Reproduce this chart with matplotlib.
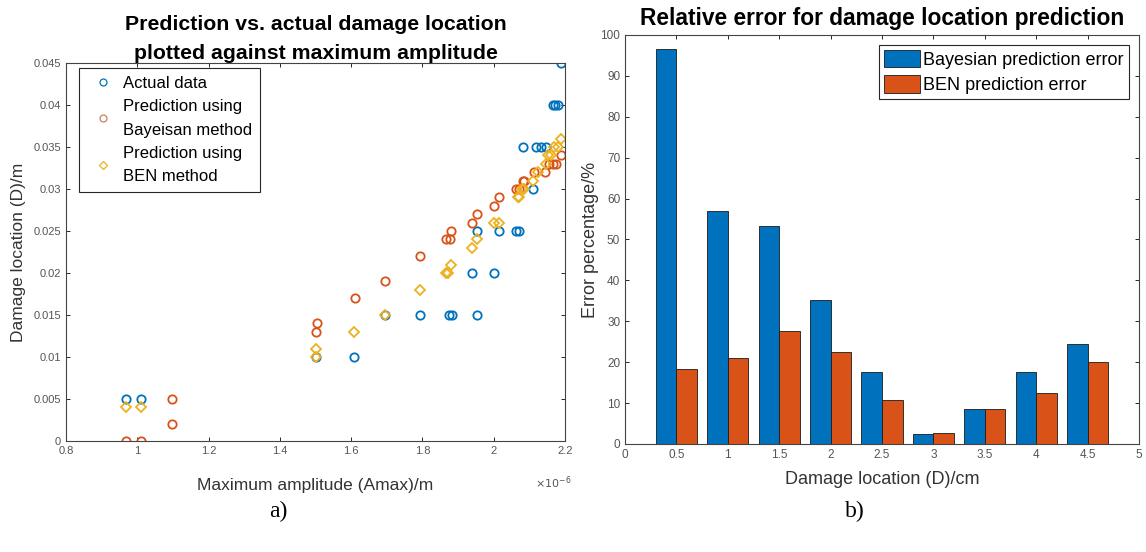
import numpy as np
import matplotlib
matplotlib.use("Agg")
import matplotlib.pyplot as plt
from matplotlib.ticker import FuncFormatter
from matplotlib.patches import Patch
from matplotlib.lines import Line2D

plt.rcParams['font.family'] = ['Liberation Sans', 'DejaVu Sans']

# --- panel a) data: amplitude in units of 1e-6 m, location in m
actual_amp = [0.969, 1.011, 1.502, 1.609, 1.695, 1.792, 1.874, 1.884, 1.953, 1.938, 2.002,
              1.952, 2.014, 2.063, 2.072, 2.109, 2.083, 2.119, 2.133, 2.147, 2.165, 2.172,
              2.180, 2.190]
actual_loc = [0.005, 0.005, 0.010, 0.010, 0.015, 0.015, 0.015, 0.015, 0.015, 0.020, 0.020,
              0.025, 0.025, 0.025, 0.025, 0.030, 0.035, 0.035, 0.035, 0.035, 0.040, 0.040,
              0.040, 0.045]

bayes_amp = [0.969, 1.011, 1.096, 1.096, 1.502, 1.503, 1.610, 1.695, 1.792, 1.865, 1.876,
             1.880, 1.938, 1.952, 2.002, 2.014, 2.063, 2.070, 2.081, 2.086, 2.113, 2.145,
             2.156, 2.165, 2.175, 2.189]
bayes_loc = [0.0, 0.0, 0.002, 0.005, 0.013, 0.014, 0.017, 0.019, 0.022, 0.024, 0.024,
             0.025, 0.026, 0.027, 0.028, 0.029, 0.030, 0.030, 0.031, 0.031, 0.032, 0.032,
             0.033, 0.033, 0.033, 0.034]

ben_amp = [0.969, 1.011, 1.502, 1.502, 1.609, 1.695, 1.792, 1.865, 1.872, 1.880, 1.938,
           1.953, 2.002, 2.014, 2.067, 2.072, 2.079, 2.085, 2.109, 2.123, 2.147, 2.151,
           2.160, 2.170, 2.181, 2.189]
ben_loc = [0.004, 0.004, 0.010, 0.011, 0.013, 0.015, 0.018, 0.020, 0.020, 0.021, 0.023,
           0.024, 0.026, 0.026, 0.029, 0.029, 0.030, 0.030, 0.031, 0.032, 0.033, 0.034,
           0.034, 0.035, 0.035, 0.036]

# --- panel b) data
damage_cm = [0.5, 1.0, 1.5, 2.0, 2.5, 3.0, 3.5, 4.0, 4.5]
bayes_err = [96.6, 56.9, 53.4, 35.1, 17.5, 2.5, 8.5, 17.5, 24.5]
ben_err = [18.4, 20.9, 27.7, 22.6, 10.8, 2.7, 8.5, 12.5, 20.0]

blue = '#0072BD'
orange = '#D95319'
yellow = '#EDB120'
axcol = '#262626'
tickcol = '#555555'

fig = plt.figure(figsize=(11.46, 5.52), dpi=100)

# ---------------- a)
ax1 = fig.add_axes([0.0576, 0.2011, 0.4354, 0.6848])
A = np.array(actual_amp) * 1e-6
B = np.array(bayes_amp) * 1e-6
C = np.array(ben_amp) * 1e-6
ax1.plot(A, actual_loc, 'o', ms=6, mfc='none', mec=blue, mew=1.3)
ax1.plot(B, bayes_loc, 'o', ms=6, mfc='none', mec=orange, mew=1.3)
ax1.plot(C, ben_loc, 'D', ms=5, mfc='none', mec=yellow, mew=1.3)

ax1.set_xlim(0.8e-6, 2.2e-6)
ax1.set_ylim(0, 0.045)
ax1.set_xticks(np.arange(0.8, 2.21, 0.2) * 1e-6)
ax1.set_yticks(np.arange(0, 0.0451, 0.005))
ax1.xaxis.set_major_formatter(FuncFormatter(lambda v, p: f'{round(v * 1e6, 2):g}'))
ax1.yaxis.set_major_formatter(FuncFormatter(lambda v, p: f'{round(v, 3):g}'))
ax1.text(0.976, -0.11, r'$\times10^{-6}$', transform=ax1.transAxes, fontsize=8,
         color=tickcol, ha='center', va='center')

ax1.set_title('Prediction vs. actual damage location\nplotted against maximum amplitude',
              fontsize=15.3, fontweight='bold', linespacing=1.65, pad=3)
ax1.set_xlabel('Maximum amplitude (Amax)/m', fontsize=12.5, color='#333333')
ax1.xaxis.set_label_coords(0.5, -0.119)
ax1.xaxis.label.set_va('center')
ax1.set_ylabel('Damage location (D)/m', fontsize=12.5, color='#333333')
ax1.yaxis.set_label_coords(-0.096, 0.5)
ax1.yaxis.label.set_va('center')

h1 = [Line2D([], [], ls='none', marker='o', ms=5, mfc='none', mec=blue, mew=0.9),
      Line2D([], [], ls='none', marker='o', ms=5, mfc='none', mec='#C8825A', mew=0.9),
      Line2D([], [], ls='none', marker='D', ms=4, mfc='none', mec=yellow, mew=0.9)]
leg1 = ax1.legend(h1, ['Actual data', 'Prediction using\nBayeisan method',
                       'Prediction using\nBEN method'],
                  loc='upper left', bbox_to_anchor=(0.026, 0.987), borderaxespad=0,
                  fontsize=12, frameon=True, fancybox=False, framealpha=1,
                  edgecolor=axcol, handlelength=1.88, handletextpad=0.26,
                  labelspacing=0.48, borderpad=0.48)
for t in leg1.get_texts():
    t.set_linespacing(1.72)
leg1.get_frame().set_linewidth(0.8)

# ---------------- b)
ax2 = fig.add_axes([0.5454, 0.1957, 0.4485, 0.741])
x = np.array(damage_cm)
ax2.bar(x - 0.1, bayes_err, width=0.2, color=blue, edgecolor='#1a1a1a', linewidth=0.6)
ax2.bar(x + 0.1, ben_err, width=0.2, color=orange, edgecolor='#1a1a1a', linewidth=0.6)
ax2.set_xlim(0, 5)
ax2.set_ylim(0, 100)
ax2.set_xticks(np.arange(0, 5.01, 0.5))
ax2.set_yticks(np.arange(0, 101, 10))
ax2.xaxis.set_major_formatter(FuncFormatter(lambda v, p: f'{v:g}'))
ax2.set_title('Relative error for damage location prediction',
              fontsize=16.4, fontweight='bold', pad=7)
ax2.set_xlabel('Damage location (D)/cm', fontsize=13, color='#333333')
ax2.xaxis.set_label_coords(0.5, -0.086)
ax2.xaxis.label.set_va('center')
ax2.set_ylabel('Error percentage/%', fontsize=13, color='#333333')
ax2.yaxis.set_label_coords(-0.068, 0.5)
ax2.yaxis.label.set_va('center')

h2 = [Patch(facecolor=blue, edgecolor='#1a1a1a', linewidth=0.6),
      Patch(facecolor=orange, edgecolor='#1a1a1a', linewidth=0.6)]
leg2 = ax2.legend(h2, ['Bayesian prediction error', 'BEN prediction error'],
                  loc='upper right', bbox_to_anchor=(0.98, 0.976), borderaxespad=0,
                  fontsize=13, frameon=True, fancybox=False, framealpha=1,
                  edgecolor=axcol, handlelength=1.95, handleheight=1.1,
                  handletextpad=0.2, labelspacing=0.38, borderpad=0.28)
leg2.get_frame().set_linewidth(0.8)

for ax, ts in ((ax1, 8), (ax2, 8.5)):
    ax.tick_params(direction='in', top=True, right=True, length=3, width=0.7,
                   labelsize=ts, labelcolor=tickcol, color=axcol)
    for s in ax.spines.values():
        s.set_color('#444444')
        s.set_linewidth(0.8)

fig.text(0.2426, 0.074, 'a)', fontsize=17, family='Liberation Serif', ha='center', va='center')
fig.text(0.746, 0.074, 'b)', fontsize=17, family='Liberation Serif', ha='center', va='center')

fig.savefig('out.png', dpi=100)
